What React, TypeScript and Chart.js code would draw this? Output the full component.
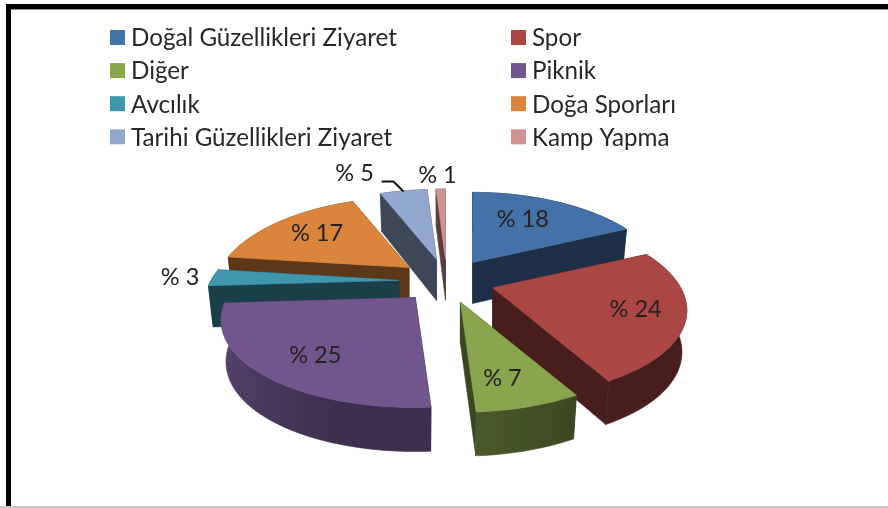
import React, { useEffect, useRef } from "react";
import { Chart, registerables } from "chart.js";

Chart.register(...registerables);

const categories = [
  "Doğal Güzellikleri Ziyaret",
  "Spor",
  "Diğer",
  "Piknik",
  "Avcılık",
  "Doğa Sporları",
  "Tarihi Güzellikleri Ziyaret",
  "Kamp Yapma",
];
const percentages = [18, 24, 7, 25, 3, 17, 5, 1];
const colors = ["#4371a8", "#aa4644", "#89a54e", "#70568d", "#3f97ae", "#db843c", "#92a8cf", "#d19392"];
const labelOffsets: [number, number][] = [
  [50, -43], [143, 22], [42, 76], [-100, 58], [-219, -3], [-92, -34], [-82, -86], [-8, -84],
];

const CX = 447, CY = 281, EXPLODE_X = 48, EXPLODE_Y = 22;
const RX = 188, RY = 85.6, PERSP_X = 0.25, PERSP_Y = 0.222;
const FONT = "Lato, 'Open Sans', sans-serif";

const hexRgb = (h: string) => [1, 3, 5].map((i) => parseInt(h.slice(i, i + 2), 16));
const shadeColor = (h: string, f: number) => {
  const [r, g, b] = hexRgb(h);
  return `rgb(${Math.round(r * f)},${Math.round(g * f)},${Math.round(b * f)})`;
};

// Perspective projection of a disc point relative to the slice apex
const proj = (a: number, r: number) => {
  const u = Math.cos(a) * r, v = Math.sin(a) * r;
  return { x: (RX * u) / (1 - PERSP_X * v), y: (RY * v) / (1 - PERSP_Y * v), v };
};

const pie3d = {
  id: "pie3d",
  beforeDraw(chart: any) {
    const { ctx, width, height } = chart;
    ctx.save();
    ctx.fillStyle = "#fff";
    ctx.fillRect(0, 0, width, height);
    ctx.fillStyle = "#c9c9c9";
    ctx.fillRect(0, 506, width, 2);
    ctx.fillStyle = "#000";
    ctx.fillRect(6, 4, width - 6, 5);
    ctx.fillRect(6, 4, 5, height - 6);
    ctx.fillStyle = "#8a8a8a";
    ctx.fillRect(11, 9, width - 11, 1);
    ctx.restore();
  },
  beforeDatasetsDraw(chart: any) {
    const { ctx } = chart;
    const meta = chart.getDatasetMeta(0);
    const ds = chart.data.datasets[0];
    const slices = meta.data.map((arc: any, i: number) => {
      const s = arc.startAngle, e = arc.endAngle, m = (s + e) / 2;
      return {
        i, s, e, m, color: ds.backgroundColor[i],
        ax: CX + EXPLODE_X * Math.cos(m),
        ay: CY + EXPLODE_Y * Math.sin(m),
      };
    });
    const order = [...slices].sort((p: any, q: any) => Math.sin(p.m) - Math.sin(q.m));
    ctx.save();
    const topPt = (sl: any, a: number) => {
      const p = proj(a, 1);
      return { x: sl.ax + p.x, y: sl.ay + p.y };
    };
    const botPt = (sl: any, a: number, r = 1) => {
      const p = proj(a, r);
      return { x: sl.ax + p.x * 0.975, y: sl.ay + p.y + 41 + 3 * p.v };
    };
    const fillPoly = (pts: any[], fill: any) => {
      ctx.beginPath();
      pts.forEach((p, k) => (k ? ctx.lineTo(p.x, p.y) : ctx.moveTo(p.x, p.y)));
      ctx.closePath();
      ctx.fillStyle = fill;
      ctx.strokeStyle = fill;
      ctx.lineWidth = 0.6;
      ctx.fill();
      ctx.stroke();
    };
    const wallShade = (a: number) => {
      const deg = ((a + Math.PI / 2) * 180) / Math.PI;
      if (deg <= 150 || deg > 268) return 0.42;
      if (deg < 180) return 0.42 + ((deg - 150) / 30) * 0.14;
      if (deg < 200) return 0.55;
      return 0.55 + ((deg - 200) / 66) * 0.33;
    };
    const radial = (sl: any, a: number) => {
      const t = topPt(sl, a), b = botPt(sl, a);
      const A = { x: sl.ax, y: sl.ay };
      const B = botPt(sl, a, 0);
      fillPoly([A, t, b, B], shadeColor(sl.color, 0.42));
    };
    const outer = (sl: any) => {
      const n = Math.max(2, Math.ceil(((sl.e - sl.s) * 180) / Math.PI / 2));
      const angles = Array.from({ length: n + 1 }, (_, k) => sl.s + ((sl.e - sl.s) * k) / n);
      const tops = angles.map((a) => topPt(sl, a));
      const bots = angles.map((a) => botPt(sl, a));
      const xs = tops.map((p) => p.x);
      const x0 = Math.min(...xs), x1 = Math.max(...xs);
      const grad = ctx.createLinearGradient(x0, 0, x1 + 0.01, 0);
      angles.forEach((a, k) => {
        const t = Math.min(1, Math.max(0, (xs[k] - x0) / (x1 - x0 + 0.01)));
        grad.addColorStop(t, shadeColor(sl.color, wallShade(a)));
      });
      fillPoly([...tops, ...bots.reverse()], grad);
    };
    order.forEach((sl: any) => {
      const back = Math.sin(sl.m) < 0;
      if (back) outer(sl);
      radial(sl, sl.s);
      radial(sl, sl.e);
      if (!back) outer(sl);
      const pts = [{ x: sl.ax, y: sl.ay }];
      const n = Math.max(2, Math.ceil(((sl.e - sl.s) * 180) / Math.PI));
      for (let k = 0; k <= n; k++) pts.push(topPt(sl, sl.s + ((sl.e - sl.s) * k) / n));
      fillPoly(pts, sl.color);
    });

    // Leader line of the small slice
    const tar = slices[6];
    ctx.beginPath();
    ctx.moveTo(tar.ax - 55, tar.ay - 78);
    ctx.lineTo(tar.ax - 43, tar.ay - 78);
    ctx.lineTo(tar.ax - 33, tar.ay - 68);
    ctx.strokeStyle = "#111";
    ctx.lineWidth = 2;
    ctx.stroke();

    // Percent labels
    ctx.font = `23.5px ${FONT}`;
    ctx.fillStyle = "#222";
    ctx.textAlign = "center";
    ctx.textBaseline = "middle";
    slices.forEach((sl: any) => {
      const [dx, dy] = labelOffsets[sl.i];
      ctx.fillText(`% ${ds.data[sl.i]}`, sl.ax + dx, sl.ay + dy);
    });

    // Two-column legend, filled row by row
    ctx.font = `24.2px ${FONT}`;
    ctx.textAlign = "left";
    chart.data.labels.forEach((label: string, i: number) => {
      const col = i % 2, row = (i - col) / 2;
      const y = 37.5 + row * 33.1;
      const x = col ? 511 : 110;
      ctx.fillStyle = ds.backgroundColor[i];
      ctx.fillRect(x, y - 7.5, 15, 15);
      ctx.fillStyle = "#282828";
      ctx.fillText(label, x + 21, y + 1);
    });
    ctx.restore();
    return false;
  },
};

export default function App() {
  const ref = useRef<HTMLCanvasElement>(null);
  useEffect(() => {
    document.body.style.margin = "0";
    const chart = new Chart(ref.current as HTMLCanvasElement, {
      type: "pie",
      data: {
        labels: categories,
        datasets: [{ data: percentages, backgroundColor: colors, borderWidth: 0 }],
      },
      options: {
        responsive: false,
        animation: false,
        plugins: { legend: { display: false }, tooltip: { enabled: false } },
      },
      plugins: [pie3d],
    } as any);
    return () => chart.destroy();
  }, []);
  return (
    <canvas
      ref={ref}
      width={888}
      height={508}
      style={{ display: "block", width: 888, height: 508, filter: "blur(0.45px)" }}
    />
  );
}
